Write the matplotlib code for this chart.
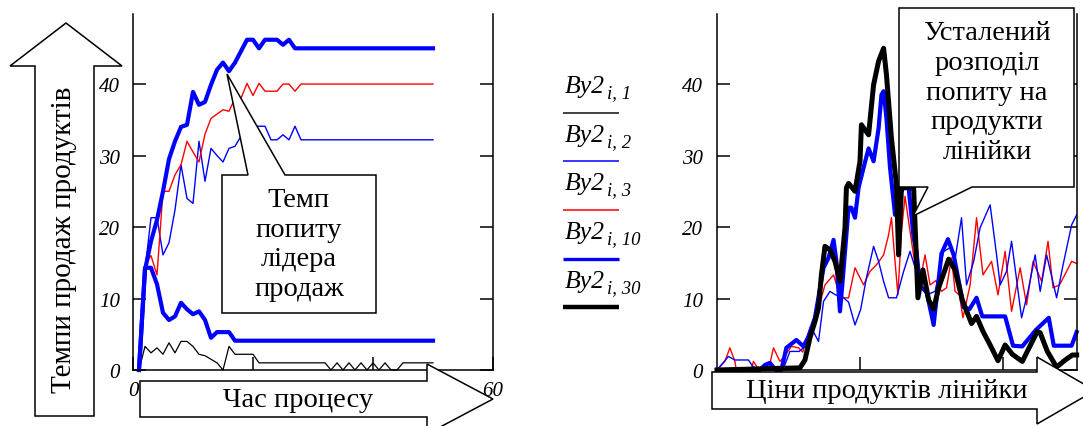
import matplotlib
matplotlib.use("Agg")
import matplotlib.pyplot as plt
from matplotlib.patches import Polygon

plt.rcParams['font.family'] = ['Liberation Serif', 'DejaVu Serif']

# ---- left chart: sales rate over process time, steps i = 1..50
steps = list(range(1, 51))
lead_high = [0, 14, 18, 21, 25, 29.5, 32, 34, 34.3, 38.9, 37.1, 37.5, 39.9, 42, 43,
             41.8, 43, 44.6, 46.2, 46.2, 45, 46.2, 46.2, 46.2, 45.5, 46.2, 45] + [45] * 23
lead_low = [0, 14.3, 14.3, 12, 8, 7, 7.5, 9.4, 8.5, 7.8, 8.2, 7, 4.5, 5.3, 5.3, 5.3,
            4.1] + [4.1] * 33
red_left = [0, 14.7, 16, 13.3, 25, 25, 27.3, 28.7, 32, 30.5, 29.1, 33, 35.2, 35.8, 36.4,
            36.2, 38, 38, 40.1, 38.4, 40.1, 39, 39, 39, 40, 40, 39] + [40] * 23
blue_left = [0, 14, 21.3, 21.3, 16.1, 17.8, 22.4, 28.7, 24, 23.3, 32, 26.4, 31, 30, 29.1,
             31, 31.3, 32.7, 33.5, 34.1, 34.1, 34.1, 32.2, 32.2, 32.9, 32.2, 34.1] + [32.2] * 23
black_left = [0, 3.3, 2.4, 3.1, 2.2, 3.8, 2.4, 4.0, 4.0, 3.3, 2.2, 2.0, 1.5, 1.0, 0, 3.3,
              2.2, 2.2, 2.2, 2.2, 1] + [1] * 11 + [0, 1, 0, 1, 0, 1, 0, 1, 0, 1, 0, 0] + [1] * 6

# ---- right chart: demand over product prices
black30_x = [0, 11.6, 12.3, 13.0, 13.7, 14.2, 14.6, 15.1, 15.8, 16.5, 17.2, 17.9, 18.1, 18.4,
             19.3, 20.0, 20.2, 21.2, 21.9, 22.6, 23.3, 23.7, 24.4, 25.1, 25.4, 25.8, 27.5,
             28.1, 28.8, 29.6, 30.3, 31.0, 32.4, 33.3, 34.3, 35.6, 36.3, 37.2, 38.2, 39.3,
             40.3, 41.3, 42.7, 43.8, 44.8, 45.2, 46.2, 47.5, 48.7, 49.7, 50.3]
black30_y = [0, 0.3, 1.4, 4.5, 6.8, 8.7, 13.3, 17.3, 16.8, 15.2, 12.4, 19.9, 25.5, 26.1,
             25.0, 29.2, 34.3, 32.9, 39.9, 43.2, 45.0, 41.3, 32.4, 25.9, 16.1, 25.5, 25.5,
             10.1, 14.0, 9.8, 8.5, 11.5, 15.5, 14.0, 9.8, 6.5, 7.5, 5.4, 3.5, 1.3,
             3.5, 2.2, 1.2, 3.4, 5.4, 5.2, 2.6, 0.4, 1.4, 2.1, 2.1]
blue10_x = [0, 6.0, 6.7, 7.4, 8.2, 9.0, 9.7, 11.1, 12.1, 12.8, 13.7, 14.9, 15.6, 16.3, 16.7,
            17.2, 17.6, 18.4, 18.8, 19.3, 19.8, 20.5, 21.2, 21.9, 22.6, 23.0, 23.3, 23.7,
            24.2, 24.9, 25.1, 26.1, 26.8, 27.5, 27.9, 28.4, 29.3, 30.3, 31.4, 32.3, 33.1,
            34.5, 35.3, 36.3, 37.1, 40.3, 41.4, 42.7, 44.6, 46.4, 47.1, 49.6, 50.3]
blue10_y = [0, 0, 0.7, 1.0, 0, 0, 3.1, 4.2, 3.3, 4.7, 7.3, 14.3, 15.7, 18.2, 15.2,
            8.2, 12.8, 22.7, 22.7, 21.3, 25.5, 28.3, 31.0, 29.2, 33.8, 38.5, 39.0, 35.2,
            28.3, 21.7, 24.0, 25.5, 25.5, 18.5, 16.6, 11.7, 11.0, 6.3, 16.3, 18.3, 16.1,
            8.8, 8.5, 10.1, 7.5, 7.5, 3.4, 3.3, 5.6, 7.3, 3.4, 3.4, 5.3]
red3_x = [0, 1.1, 1.8, 2.5, 2.7, 4.8, 5.1, 5.6, 7.2, 7.9, 8.8, 9.5, 10.4, 11.4, 12.0, 13.0,
          13.7, 15.1, 16.3, 17.0, 17.7, 18.4, 19.3, 20.5, 21.4, 22.3, 23.3, 24.0, 24.4, 24.9,
          25.3, 25.8, 26.3, 27.0, 27.5, 28.2, 29.1, 29.8, 30.6, 31.4, 32.1, 32.8, 33.3, 33.9,
          34.4, 35.4, 36.3, 37.2, 38.4, 39.3, 40.3, 41.2, 42.4, 43.3, 44.2, 45.4, 46.3, 47.0,
          47.9, 48.9, 49.6, 50.3]
red3_y = [0, 1.2, 3.1, 1.2, 0, 0, 1.2, 0.4, 0, 3.1, 1.2, 2.0, 3.3, 3.1, 2.5, 5.9,
          6.8, 11.9, 13.3, 11.0, 10.1, 10.1, 14.3, 11.9, 13.8, 14.7, 16.1, 18.9, 21.3, 15.2,
          10.5, 19.4, 24.3, 19.4, 16.0, 11.5, 16.1, 11.9, 12.5, 11.0, 11.5, 15.7, 11.0, 10.5,
          7.3, 11.9, 21.3, 13.3, 15.2, 10.5, 16.6, 8.2, 14.3, 9.1, 15.2, 12.4, 18.0, 11.5,
          11.9, 13.8, 15.2, 14.9]
blue2_x = [0, 1.6, 2.5, 4.4, 5.0, 6.0, 7.0, 7.6, 8.5, 9.3, 10.2, 11.5, 12.3, 13.2, 14.2, 14.9,
           15.8, 16.6, 17.7, 18.4, 19.3, 20.1, 20.9, 21.9, 22.6, 23.3, 24.0, 25.1, 26.1, 27.0,
           27.8, 28.6, 29.3, 30.5, 31.7, 32.6, 33.3, 34.2, 34.9, 35.9, 36.8, 38.2, 39.1, 39.6,
           40.5, 41.2, 42.6, 43.5, 44.5, 45.2, 46.1, 47.5, 48.4, 49.6, 50.3]
blue2_y = [0, 1.9, 1.4, 1.4, 0.5, 0, 0.5, 0, 0.5, 0.2, 2.6, 2.6, 3.3, 5.9, 4.0, 9.6,
           11.0, 10.5, 10.1, 9.5, 6.3, 8.5, 12.9, 17.3, 15.2, 12.4, 10.1, 10.1, 13.8, 16.6,
           14.0, 11.5, 10.5, 11.0, 16.6, 17.1, 15.5, 21.3, 11.9, 15.2, 19.9, 23.1, 16.1, 11.9,
           13.8, 18.0, 7.3, 11.0, 16.1, 11.0, 16.1, 10.1, 14.7, 20.3, 21.7]

y_ticks = [0, 10, 20, 30, 40]
x_ticks_left = [0, 20, 40, 60]
x_labels_left = ['0', '', '', '60']   # 20 and 40 sit behind the arrow in the original
legend_idx = ['i, 1', 'i, 2', 'i, 3', 'i, 10', 'i, 30']
legend_colors = ['#222222', 'blue', 'red', 'blue', 'black']
legend_widths = [1.2, 1.1, 1.1, 2.4, 3.2]

W, H = 1083, 427
fig = plt.figure(figsize=(W / 100, H / 100), dpi=100)


def rect(l, t, r, b):
    return [l / W, 1 - b / H, (r - l) / W, (b - t) / H]


ax1 = fig.add_axes(rect(133, 15, 493, 371))
ax2 = fig.add_axes(rect(717, 15, 1077, 371))

for ax in (ax1, ax2):
    ax.set_ylim(0, 49.8)
    ax.spines['top'].set_visible(False)
    for s in ('left', 'right', 'bottom'):
        ax.spines[s].set_linewidth(1.1)
    ax.set_yticks(y_ticks)
    ax.tick_params(axis='y', direction='in', length=9.5, width=1.1,
                   left=True, right=True, labelsize=15)
    ax.tick_params(axis='x', direction='in', length=9.5, width=1.1, labelsize=15, pad=8)
    plt.setp(ax.get_yticklabels(), fontstyle='italic')

ax1.tick_params(axis='y', pad=9.5)
ax2.tick_params(axis='y', pad=10)

# left chart
ax1.set_xlim(0, 60)
ax1.set_xticks(x_ticks_left, labels=x_labels_left)
plt.setp(ax1.get_xticklabels(), fontstyle='italic')
ax1.plot(steps, black_left, color='black', lw=0.9, clip_on=False)
ax1.plot(steps, blue_left, color='blue', lw=1.0, clip_on=False)
ax1.plot(steps, red_left, color='red', lw=1.0, clip_on=False)
ax1.plot(steps, lead_low, color='blue', lw=3.0, clip_on=False)
ax1.plot(steps, lead_high, color='blue', lw=3.0, clip_on=False)

# right chart
ax2.set_xlim(0, 50.35)
ax2.set_xticks([20, 40])
ax2.set_xticklabels([])
ax2.plot(red3_x, red3_y, color='red', lw=1.0, clip_on=False)
ax2.plot(blue2_x, blue2_y, color='blue', lw=1.0, clip_on=False)
ax2.plot(blue10_x, blue10_y, color='blue', lw=3.0, clip_on=False)
ax2.plot(black30_x, black30_y, color='black', lw=3.6, clip_on=False)

# overlay in pixel coordinates for arrows, callouts and legend
ov = fig.add_axes([0, 0, 1, 1], zorder=5)
ov.set_xlim(0, W)
ov.set_ylim(H, 0)
ov.axis('off')

shape_kw = dict(closed=True, facecolor='white', edgecolor='black', lw=1.1)

# vertical arrow
ov.add_patch(Polygon([(35, 417), (35, 67), (10, 67), (66, 24), (122, 67), (94, 67), (94, 417)],
                     **shape_kw))
ov.text(64, 240, 'Темпи продаж продуктів', rotation=90, ha='center', va='center', fontsize=21)

# bottom-left arrow
ov.add_patch(Polygon([(140, 382), (427, 382), (427, 365), (493, 400), (427, 435), (427, 418),
                      (140, 418)], **shape_kw))
ov.text(298, 401, 'Час процесу', ha='center', va='center', fontsize=20.5)

# bottom-right arrow
ov.add_patch(Polygon([(712, 373), (1037, 373), (1037, 358), (1095, 391.5), (1037, 425),
                      (1037, 410), (712, 410)], **shape_kw))
ov.text(887, 392, 'Ціни продуктів лінійки', ha='center', va='center', fontsize=20.5)

# callouts
ov.add_patch(Polygon([(222, 176), (248, 176), (227, 75), (285, 176), (376, 176), (376, 314),
                      (222, 314)], **shape_kw))
ov.text(299, 245, 'Темп\nпопиту\nлідера\nпродаж', ha='center', va='center',
        fontsize=20.5, linespacing=1.24)

ov.add_patch(Polygon([(899, 9), (1074, 9), (1074, 188), (972, 188), (913, 217), (928, 188),
                      (899, 188)], **shape_kw))
ov.text(987, 93, 'Усталений\nрозподіл\nпопиту на\nпродукти\nлінійки', ha='center',
        va='center', fontsize=20.5, linespacing=1.24)

# legend
for k, idx in enumerate(legend_idx):
    base = 93 + 48.7 * k
    ov.text(565, base, 'By2', ha='left', va='baseline', fontsize=18.5, fontstyle='italic')
    ov.text(607, base + 5, idx, ha='left', va='baseline', fontsize=13.5, fontstyle='italic')
    ov.plot([563, 619], [base + 20.5, base + 20.5], color=legend_colors[k],
            lw=legend_widths[k], solid_capstyle='butt')

fig.savefig('out.png', dpi=100)
